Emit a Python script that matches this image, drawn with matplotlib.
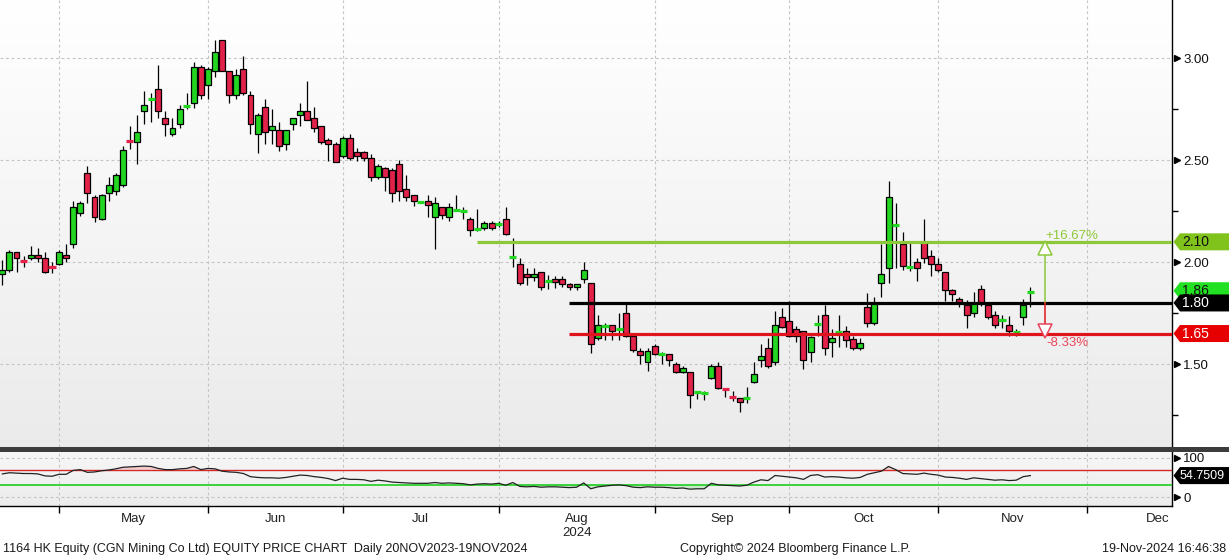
import numpy as np
import matplotlib
matplotlib.use("Agg")
import matplotlib.pyplot as plt
from matplotlib import font_manager
from matplotlib.colors import LinearSegmentedColormap
from matplotlib.patches import Polygon, Rectangle
from matplotlib.transforms import blended_transform_factory

# 1164 HK daily candles, 18 Apr - 19 Nov 2024 (HKD)
opens = [
    1.94, 1.96, 2.05, 2.01, 2.02, 2.035, 2.02, 1.98, 1.99, 2.035,
    2.09, 2.24, 2.44, 2.32, 2.21, 2.34, 2.35, 2.38, 2.595, 2.59,
    2.74, 2.80, 2.85, 2.71, 2.63, 2.68, 2.76, 2.78, 2.96, 2.87,
    2.94, 3.09, 2.94, 2.82, 2.95, 2.82, 2.63, 2.76, 2.65, 2.65,
    2.58, 2.68, 2.72, 2.74, 2.71, 2.67, 2.60, 2.58, 2.52, 2.61,
    2.54, 2.54, 2.51, 2.42, 2.46, 2.45, 2.48, 2.36, 2.33, 2.295,
    2.30, 2.22, 2.27, 2.22, 2.25, 2.25, 2.21, 2.16, 2.17, 2.19,
    2.18, 2.21, 2.025, 1.99, 1.94, 1.925, 1.95, 1.905, 1.92, 1.92,
    1.895, 1.88, 1.92, 1.90, 1.63, 1.685, 1.69, 1.67, 1.75, 1.64,
    1.565, 1.51, 1.59, 1.545, 1.55, 1.50, 1.46, 1.46, 1.36, 1.355,
    1.43, 1.49, 1.385, 1.345, 1.335, 1.33, 1.41, 1.52, 1.58, 1.51,
    1.73, 1.71, 1.67, 1.66, 1.56, 1.695, 1.74, 1.61, 1.655, 1.66,
    1.625, 1.58, 1.78, 1.70, 1.90, 1.97, 2.18, 2.09, 1.97, 2.00,
    2.10, 2.03, 1.99, 1.95, 1.865, 1.82, 1.79, 1.75, 1.87, 1.79,
    1.74, 1.715, 1.69, 1.655, 1.73, 1.85]
highs = [
    2.01, 2.06, 2.05, 2.03, 2.08, 2.07, 2.05, 2.00, 2.06, 2.09,
    2.30, 2.30, 2.47, 2.33, 2.335, 2.42, 2.44, 2.57, 2.67, 2.72,
    2.84, 2.83, 2.97, 2.74, 2.71, 2.77, 2.83, 2.98, 2.97, 2.96,
    3.09, 3.09, 2.94, 2.95, 3.01, 2.84, 2.73, 2.80, 2.75, 2.69,
    2.65, 2.71, 2.78, 2.89, 2.76, 2.67, 2.61, 2.59, 2.62, 2.63,
    2.56, 2.545, 2.53, 2.48, 2.465, 2.46, 2.50, 2.43, 2.33, 2.30,
    2.33, 2.32, 2.27, 2.29, 2.33, 2.27, 2.22, 2.26, 2.20, 2.20,
    2.20, 2.27, 2.12, 2.02, 1.97, 1.97, 1.95, 1.935, 1.93, 1.93,
    1.90, 1.895, 2.00, 1.90, 1.74, 1.70, 1.69, 1.75, 1.80, 1.64,
    1.58, 1.58, 1.60, 1.56, 1.55, 1.51, 1.49, 1.46, 1.37, 1.37,
    1.50, 1.51, 1.385, 1.37, 1.335, 1.39, 1.51, 1.60, 1.63, 1.76,
    1.775, 1.81, 1.685, 1.66, 1.64, 1.74, 1.79, 1.67, 1.74, 1.685,
    1.64, 1.63, 1.85, 1.83, 2.09, 2.40, 2.29, 2.15, 2.10, 2.02,
    2.21, 2.06, 2.02, 1.95, 1.87, 1.83, 1.815, 1.855, 1.89, 1.79,
    1.76, 1.74, 1.735, 1.67, 1.82, 1.88]
lows = [
    1.89, 1.95, 1.95, 1.975, 2.01, 2.00, 1.945, 1.945, 1.985, 2.00,
    2.07, 2.225, 2.29, 2.195, 2.205, 2.30, 2.33, 2.37, 2.555, 2.48,
    2.68, 2.69, 2.71, 2.62, 2.62, 2.66, 2.75, 2.755, 2.80, 2.80,
    2.91, 2.94, 2.78, 2.80, 2.82, 2.63, 2.535, 2.58, 2.58, 2.545,
    2.55, 2.65, 2.67, 2.70, 2.64, 2.58, 2.495, 2.49, 2.51, 2.50,
    2.495, 2.495, 2.40, 2.41, 2.35, 2.295, 2.30, 2.30, 2.275, 2.295,
    2.22, 2.063, 2.21, 2.20, 2.25, 2.21, 2.13, 2.155, 2.16, 2.16,
    2.175, 2.135, 1.975, 1.89, 1.89, 1.91, 1.865, 1.87, 1.875, 1.88,
    1.865, 1.865, 1.90, 1.555, 1.62, 1.62, 1.62, 1.62, 1.635, 1.56,
    1.50, 1.465, 1.545, 1.50, 1.49, 1.455, 1.455, 1.285, 1.33, 1.325,
    1.425, 1.38, 1.34, 1.32, 1.265, 1.31, 1.405, 1.485, 1.48, 1.495,
    1.675, 1.635, 1.61, 1.475, 1.51, 1.64, 1.545, 1.535, 1.585, 1.585,
    1.57, 1.57, 1.68, 1.69, 1.83, 1.90, 1.97, 1.96, 1.955, 1.91,
    1.995, 1.93, 1.95, 1.81, 1.81, 1.78, 1.675, 1.73, 1.785, 1.72,
    1.675, 1.675, 1.64, 1.64, 1.69, 1.78]
closes = [
    1.96, 2.05, 2.02, 2.00, 2.035, 2.02, 1.95, 1.97, 2.05, 2.02,
    2.27, 2.29, 2.34, 2.22, 2.33, 2.38, 2.43, 2.55, 2.59, 2.64,
    2.77, 2.805, 2.74, 2.68, 2.66, 2.75, 2.77, 2.96, 2.82, 2.95,
    3.03, 2.94, 2.82, 2.92, 2.83, 2.68, 2.72, 2.64, 2.67, 2.57,
    2.65, 2.71, 2.74, 2.70, 2.66, 2.59, 2.58, 2.49, 2.61, 2.51,
    2.52, 2.51, 2.42, 2.47, 2.42, 2.34, 2.35, 2.32, 2.30, 2.30,
    2.28, 2.29, 2.23, 2.27, 2.26, 2.255, 2.16, 2.165, 2.19, 2.17,
    2.19, 2.14, 2.03, 1.90, 1.925, 1.94, 1.88, 1.91, 1.905, 1.895,
    1.88, 1.895, 1.96, 1.60, 1.69, 1.69, 1.66, 1.675, 1.64, 1.57,
    1.545, 1.565, 1.55, 1.55, 1.52, 1.46, 1.48, 1.35, 1.365, 1.36,
    1.49, 1.385, 1.375, 1.335, 1.315, 1.335, 1.45, 1.54, 1.49, 1.69,
    1.68, 1.64, 1.64, 1.52, 1.635, 1.70, 1.58, 1.63, 1.66, 1.62,
    1.58, 1.605, 1.70, 1.80, 1.94, 2.32, 2.185, 1.98, 1.98, 1.97,
    2.02, 1.99, 1.96, 1.865, 1.845, 1.805, 1.74, 1.80, 1.80, 1.73,
    1.69, 1.72, 1.66, 1.66, 1.79, 1.86]
rsi = [
    59, 62, 61, 60, 60, 59, 54, 53, 58, 58,
    68, 70, 63, 64, 67, 69, 72, 76, 77, 78,
    79, 78, 73, 70, 70, 72, 73, 78, 70, 73,
    72, 66, 64, 63, 60, 52, 50, 49, 49, 48,
    50, 53, 56, 55, 52, 50, 47, 42, 48, 45,
    45, 44, 40, 43, 41, 38, 37, 36, 35, 35,
    35, 37, 35, 36, 35, 34, 31, 33, 34, 33,
    35, 30, 37, 27, 26, 27, 25, 26, 26, 25,
    24, 25, 36, 21, 26, 28, 30, 31, 29, 25,
    24, 26, 25, 25, 24, 22, 23, 20, 21, 21,
    35, 31, 30, 29, 28, 30, 38, 44, 42, 55,
    53, 51, 49, 45, 55, 57, 51, 52, 51, 49,
    48, 50, 58, 62, 66, 78, 70, 60, 59, 58,
    61, 58, 56, 51, 50, 48, 45, 49, 47, 45,
    43, 44, 42, 43, 52, 54.75]

# trading days per month on the axis (Apr only partly visible)
months = ["Apr", "May", "Jun", "Jul", "Aug", "Sep", "Oct", "Nov", "Dec"]
month_days = [9, 21, 19, 22, 22, 19, 21, 21, 20]

target_level, pivot_level, stop_level = 2.10, 1.80, 1.65
last_price = 1.86
rsi_last = 54.7509

GREEN = "#22d622"
RED = "#e3224a"
LIME = "#8cc83a"
LINE_RED = "#e0141c"
GRID = "#c4c4c4"

names = {f.name for f in font_manager.fontManager.ttflist}
narrow = "Liberation Sans Narrow" if "Liberation Sans Narrow" in names else "Liberation Sans"
plt.rcParams["font.family"] = ["Liberation Sans", "DejaVu Sans"]

W, H = 1229, 558
fig = plt.figure(figsize=(W / 100, H / 100), dpi=100)


def fx(px):
    return px / W


def fy(py):
    return 1 - py / H


ax = fig.add_axes([0, fy(447), fx(1172), 447 / H])
rx = fig.add_axes([0, fy(506), fx(1172), (506 - 452) / H], sharex=ax)

# background gradients
grad = np.linspace(0, 1, 256).reshape(-1, 1)
ax.imshow(grad, extent=[0, 1, 0, 1], transform=ax.transAxes, origin="lower", aspect="auto",
          cmap=LinearSegmentedColormap.from_list("bg", ["#ebebeb", "#ffffff"]), zorder=0)
rx.imshow(grad, extent=[0, 1, 0, 1], transform=rx.transAxes, origin="lower", aspect="auto",
          cmap=LinearSegmentedColormap.from_list("bg2", ["#ececec", "#f7f7f7"]), zorder=0)

n = len(closes)
x = np.arange(n)
o, h, l, c = (np.array(v, dtype=float) for v in (opens, highs, lows, closes))
colors = np.where(c >= o, GREEN, RED)
body = np.abs(c - o)
small = body <= 0.011
big = ~small

ends = np.cumsum(month_days) - 1
xmin, xmax = -0.33, 164.98

for a in (ax, rx):
    for b in ends:
        if xmin < b < xmax:
            a.axvline(b, color=GRID, lw=0.8, ls=(0, (2.5, 2.5)), zorder=1)
for lvl in (1.5, 2.0, 2.5, 3.0):
    ax.axhline(lvl, color=GRID, lw=0.8, ls=(0, (2.5, 2.5)), zorder=1)
for lvl in (0, 100):
    rx.axhline(lvl, color=GRID, lw=0.8, ls=(0, (2.5, 2.5)), zorder=1)

# candles
ax.vlines(x, l, h, color="black", lw=0.9, zorder=3)
ax.bar(x[big], body[big], bottom=np.minimum(o, c)[big], width=0.84,
       color=colors[big], edgecolor="black", linewidth=0.9, zorder=4)
ax.hlines(((o + c) / 2)[small], x[small] - 0.5, x[small] + 0.5,
          colors=colors[small], lw=2.3, zorder=4)

# horizontal levels
ax.plot([66.95, xmax + 1], [target_level] * 2, color=LIME, lw=2.3, zorder=5, solid_capstyle="butt")
ax.plot([79.95, xmax + 1], [pivot_level] * 2, color="black", lw=2.3, zorder=5, solid_capstyle="butt")
ax.plot([79.95, xmax + 1], [stop_level] * 2, color=LINE_RED, lw=2.3, zorder=5, solid_capstyle="butt")

# up / down arrows
ax.plot([147, 147], [pivot_level, 2.047], color=LIME, lw=1.1, zorder=6)
ax.plot([147], [2.070], marker="^", ms=10, mfc="white", mec=LIME, mew=1.1, zorder=6)
ax.plot([147, 147], [pivot_level, 1.684], color=LINE_RED, lw=1.1, zorder=6)
ax.plot([147], [1.662], marker="v", ms=10, mfc="white", mec="#e8455a", mew=1.1, zorder=6)
up_pct = (target_level / pivot_level - 1) * 100
dn_pct = (stop_level / pivot_level - 1) * 100
ax.text(147.1, 2.129, f"+{up_pct:.2f}%", color=LIME, fontsize=9.5, va="center", ha="left", zorder=7)
ax.text(147.3, 1.602, f"{dn_pct:.2f}%", color="#e8455a", fontsize=9.5, va="center", ha="left", zorder=7)

# RSI panel
rsi_a = np.array(rsi, dtype=float)
rx.fill_between(x, 70, rsi_a, where=rsi_a > 70, interpolate=True, color="#f08080", alpha=0.35, lw=0, zorder=2)
rx.fill_between(x, 30, rsi_a, where=rsi_a < 30, interpolate=True, color="#7fe07f", alpha=0.35, lw=0, zorder=2)
rx.axhline(70, color="#d42a2a", lw=1.0, zorder=3)
rx.axhline(30, color="#2fcf2f", lw=1.3, zorder=3)
rx.plot(x, rsi_a, color="#222222", lw=0.9, zorder=4)

# axes styling
for a in (ax, rx):
    for s in ("top", "left"):
        a.spines[s].set_visible(False)
    a.spines["right"].set_color("black")
    a.spines["right"].set_linewidth(1.0)
    a.yaxis.tick_right()
ax.spines["bottom"].set_visible(False)
rx.spines["bottom"].set_color("black")
rx.spines["bottom"].set_linewidth(1.0)

ax.set_yticks([1.5, 2.0, 2.5, 3.0])
ax.set_yticklabels(["1.50", "2.00", "2.50", "3.00"])
ax.set_yticks([1.25, 1.75, 2.25, 2.75], minor=True)
ax.tick_params(axis="y", which="major", length=0, pad=8, labelsize=9.5, labelcolor="#111111")
ax.tick_params(axis="y", which="minor", length=4, width=1, color="black")
ax.tick_params(axis="x", which="both", bottom=False, labelbottom=False)
ax.plot([1.004] * 4, [1.5, 2.0, 2.5, 3.0], ls="none", marker=">", ms=4.5, color="black",
        transform=ax.get_yaxis_transform(), clip_on=False, zorder=8)

rx.set_yticks([0, 100])
rx.set_yticklabels(["0", "100"])
rx.tick_params(axis="y", which="major", length=0, pad=8, labelsize=9.5, labelcolor="#111111")
rx.plot([1.004] * 2, [0, 100], ls="none", marker=">", ms=4.5, color="black",
        transform=rx.get_yaxis_transform(), clip_on=False, zorder=8)

mids = [(ends[i - 1] + ends[i]) / 2 for i in range(1, len(months))]
labels = [m + "\n2024" if m == "Aug" else m for m in months[1:]]
rx.set_xticks(mids)
rx.set_xticklabels(labels, fontfamily=narrow, fontsize=9.5, color="#222222", linespacing=1.2)
rx.set_xticks([b for b in ends if xmin < b < xmax], minor=True)
rx.tick_params(axis="x", which="major", length=0, pad=5)
rx.tick_params(axis="x", which="minor", length=5, width=1, color="black")

# limits last: set_xticks can widen the view
ax.set_xlim(xmin, xmax)
ax.set_ylim(1.0932, 3.2866)
rx.set_ylim(-23, 115)

# separator between panels
fig.add_artist(Rectangle((0, fy(452)), 1, 5 / H, transform=fig.transFigure,
                         facecolor="#3c3c3c", edgecolor="none", zorder=5))


# price tags on the right
def tag(a, y, label, face, fg, half, z, size=10, start=1182):
    tr = blended_transform_factory(fig.transFigure, a.transData)
    x0, x1, x2 = fx(1173.5), fx(1180), 1.0
    fig.add_artist(Polygon([(x0, y), (x1, y + half), (x2, y + half), (x2, y - half), (x1, y - half)],
                           closed=True, transform=tr, facecolor=face, edgecolor="none", zorder=z))
    fig.text(fx(start), y, label, transform=tr, color=fg, fontsize=size, va="center", ha="left",
             zorder=z + 0.5)


half_px = 8.5
tag(ax, target_level, f"{target_level:.2f}", "#7fc31c", "#111111", half_px / 203.8, 10)
tag(ax, last_price, f"{last_price:.2f}", "#22e022", "#111111", half_px / 203.8, 11)
tag(ax, pivot_level, f"{pivot_level:.2f}", "black", "white", half_px / 203.8, 12)
tag(ax, stop_level, f"{stop_level:.2f}", "#e60000", "white", half_px / 203.8, 13)
tag(rx, rsi_last, f"{rsi_last:.4f}", "black", "white", half_px / 0.39, 14, size=9, start=1180)

# footer
fig.text(fx(3), fy(549),
         "1164 HK Equity (CGN Mining Co Ltd) EQUITY PRICE CHART  Daily 20NOV2023-19NOV2024",
         fontfamily=narrow, fontsize=9, color="#1a1a1a", va="center", ha="left")
fig.text(fx(795), fy(549), "Copyright\u00a9 2024 Bloomberg Finance L.P.",
         fontfamily=narrow, fontsize=9, color="#1a1a1a", va="center", ha="center")
fig.text(fx(1226), fy(549), "19-Nov-2024 16:46:38",
         fontfamily=narrow, fontsize=9, color="#1a1a1a", va="center", ha="right")

fig.savefig("out.png", dpi=100, facecolor="white")
